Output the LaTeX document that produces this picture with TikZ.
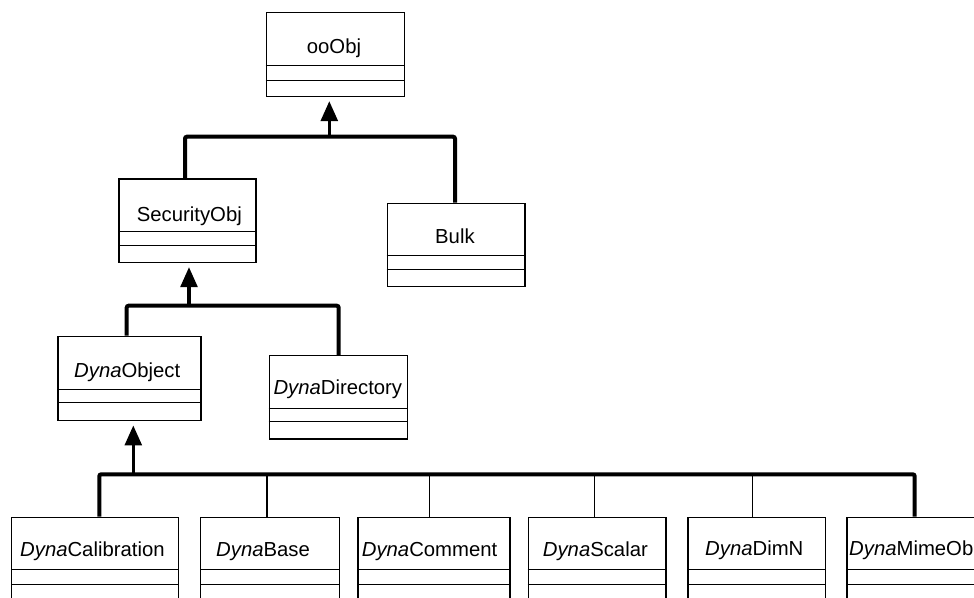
\documentclass[tikz,border=0pt]{standalone}
\usepackage{fontspec}
\setmainfont{Liberation Sans}
\usetikzlibrary{arrows.meta}

\tikzset{
  classbox/.style={draw, line width=1.4pt, rectangle, inner sep=0pt, anchor=north west},
  divider/.style={line width=1pt},
  classname/.style={anchor=base west, inner sep=0pt, font=\fontsize{20.3}{24}\selectfont},
  bar/.style={line width=4pt, rounded corners=2pt},
  thinlink/.style={line width=1.2pt},
  inherit/.style={line width=3.5pt, -{Triangle[width=16.7pt,length=20pt]}, shorten >=4pt},
}

% class box: name, left, top, width, height, first and second divider offsets
\newcommand\umlclass[7]{%
  \node[classbox, minimum width=#4pt, minimum height=#5pt] (#1) at (#2,#3) {};
  \draw[divider] ([yshift=-#6pt]#1.north west) -- ([yshift=-#6pt]#1.north east);
  \draw[divider] ([yshift=-#7pt]#1.north west) -- ([yshift=-#7pt]#1.north east);
}
\newcommand\dyna{\textit{Dyna}}

\begin{document}
\begin{tikzpicture}[x=1pt, y=-1pt]
  \useasboundingbox (0,0) rectangle (974,597);
  \fill[white] (0,0) rectangle (974,597);
  \clip (0,0) rectangle (974,597);

  % classes
  \umlclass{ooObj}{265.7}{12}{138}{83.7}{53.3}{68.3}
  \umlclass{sec}{118.3}{178.3}{137}{83.4}{53.4}{67.4}
  \umlclass{bulk}{386.7}{202.7}{137.6}{83.3}{53}{66.6}
  \umlclass{dobj}{57.3}{335.7}{143}{84.3}{53.6}{67}
  \umlclass{ddir}{268.7}{355}{138.3}{83.3}{53.3}{66.7}
  \umlclass{calib}{11}{516.7}{166.7}{100}{52.3}{67.3}
  \umlclass{base}{200}{516.7}{139}{100}{52.3}{67.3}
  \umlclass{comm}{357.3}{516.7}{152}{100}{52.3}{67.3}
  \umlclass{scal}{527.7}{516.7}{137.6}{100}{52.3}{67.3}
  \umlclass{dimn}{687.3}{516.7}{137.7}{100}{52.3}{67.3}
  \umlclass{mime}{846.3}{516.7}{160}{100}{52.3}{67.3}

  % class names
  \node[classname] (ooObj-t) at (306.7,53.3) {ooObj};
  \node[classname] (sec-t)   at (136.7,221.7) {SecurityObj};
  \node[classname] (bulk-t)  at (435,243.3) {Bulk};
  \node[classname] (dobj-t)  at (74,377.3) {\dyna Object};
  \node[classname] (ddir-t)  at (273.3,394) {\dyna Directory};
  \node[classname] (calib-t) at (20,556) {\dyna Calibration};
  \node[classname] (base-t)  at (216,556) {\dyna Base};
  \node[classname] (comm-t)  at (361.7,556) {\dyna Comment};
  \node[classname] (scal-t)  at (542.7,556.5) {\dyna Scalar};
  \node[classname] (dimn-t)  at (705,555.5) {\dyna DimN};
  \node[classname] (mime-t)  at (849,555.5) {\dyna MimeOb};

  % junction points of the inheritance trees
  \coordinate (j1) at (329.3,136.7);
  \coordinate (k1) at (185,136.7);
  \coordinate (k2) at (455,136.7);
  \coordinate (j2) at (189,305.7);
  \coordinate (k3) at (126.7,305.7);
  \coordinate (k4) at (338.7,305.7);
  \coordinate (j3) at (133.3,474.3);
  \coordinate (k5) at (99.3,474.3);
  \coordinate (k6) at (914.7,474.3);
  \coordinate (tb) at (267,474.3);
  \coordinate (tc) at (429.7,474.3);
  \coordinate (ts) at (594.3,474.3);
  \coordinate (td) at (752.3,474.3);

  % ooObj subtree
  \draw[inherit] (j1) -- (j1 |- ooObj.south);
  \draw[bar] (k1 |- sec.north) -- (k1) -- (k2) -- (k2 |- bulk.north);

  % SecurityObj subtree
  \draw[inherit] (j2) -- (j2 |- sec.south);
  \draw[bar] (k3 |- dobj.north) -- (k3) -- (k4) -- (k4 |- ddir.north);

  % DynaObject subtree
  \draw[inherit] (j3) -- (j3 |- dobj.south);
  \draw[thinlink] (tb) -- (tb |- base.north);
  \draw[thinlink] (tc) -- (tc |- comm.north);
  \draw[thinlink] (ts) -- (ts |- scal.north);
  \draw[thinlink] (td) -- (td |- dimn.north);
  \draw[bar] (k5 |- calib.north) -- (k5) -- (k6) -- (k6 |- mime.north);
\end{tikzpicture}
\end{document}
